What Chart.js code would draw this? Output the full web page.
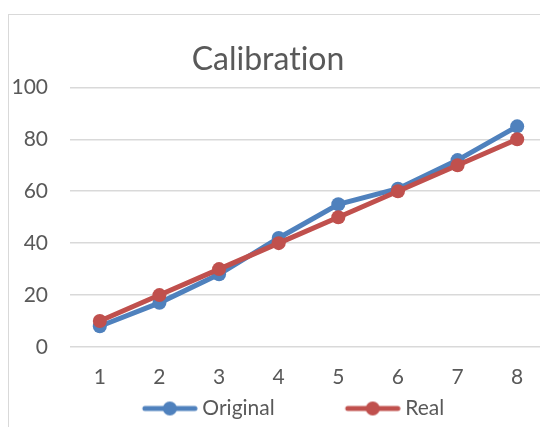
<!DOCTYPE html>
<html>
<head>
<meta charset="utf-8">
<title>Calibration</title>
<script src="https://cdn.jsdelivr.net/npm/chart.js@4/dist/chart.umd.min.js"></script>
<style>
    html, body { margin: 0; padding: 0; background: #ffffff; overflow: hidden; }
    #chartFrame {
        position: absolute;
        left: 8px;
        top: 14px;
        width: 570px;
        height: 470px;
        border: 1px solid #d9d9d9;
        background: #ffffff;
    }
    #calibrationChart { display: block; }
</style>
</head>
<body>
<div id="chartFrame">
    <canvas id="calibrationChart" width="560" height="414"></canvas>
</div>

<script>
// chart data
var categories = ['1', '2', '3', '4', '5', '6', '7', '8'];
var originalValues = [8, 17, 28, 42, 55, 61, 72, 85];
var realValues = [10, 20, 30, 40, 50, 60, 70, 80];
var seriesNames = ['Original', 'Real'];
var yTicks = [0, 20, 40, 60, 80, 100];

var blue = '#4F81BD';
var red = '#C0504D';
var textColor = '#595959';

// legend marker: line with a dot, like Excel
// (blank lead on the left gives the gap between the two entries)
function makeLegendIcon(color) {
    var lead = 68;
    var icon = document.createElement('canvas');
    icon.width = lead + 56;
    icon.height = 16;
    var c = icon.getContext('2d');
    c.strokeStyle = color;
    c.lineWidth = 5;
    c.lineCap = 'round';
    c.beginPath();
    c.moveTo(lead + 3, 8);
    c.lineTo(lead + 53, 8);
    c.stroke();
    c.fillStyle = color;
    c.beginPath();
    c.arc(lead + 28, 8, 7, 0, Math.PI * 2);
    c.fill();
    return icon;
}

var legendIcons = [makeLegendIcon(blue), makeLegendIcon(red)];

// Excel centres title and legend on the frame, not on the plot
var frameCentre = {
    id: 'frameCentre',
    beforeDraw: function (chart) {
        // no "ti" ligature in the title
        chart.ctx.textRendering = 'optimizeSpeed';
    },
    afterLayout: function (chart) {
        if (chart.titleBlock) {
            chart.titleBlock.left = 0;
            chart.titleBlock.right = 518;
        }
        if (chart.legend) {
            chart.legend.left -= 16;
            chart.legend.right -= 16;
        }
    }
};

document.addEventListener('DOMContentLoaded', function () {
    var ctx = document.getElementById('calibrationChart').getContext('2d');

    window.calibrationChart = new Chart(ctx, {
        type: 'line',
        data: {
            labels: categories,
            datasets: [{
                label: seriesNames[0],
                data: originalValues,
                borderColor: blue,
                backgroundColor: blue,
                borderWidth: 5,
                pointRadius: 7,
                pointHoverRadius: 7,
                pointBorderWidth: 0,
                tension: 0,
                order: 1
            }, {
                label: seriesNames[1],
                data: realValues,
                borderColor: red,
                backgroundColor: red,
                borderWidth: 5,
                pointRadius: 7,
                pointHoverRadius: 7,
                pointBorderWidth: 0,
                tension: 0,
                order: 0
            }]
        },
        options: {
            responsive: false,
            animation: false,
            devicePixelRatio: 1,
            layout: {
                padding: { left: 0, right: 22, top: 0, bottom: 0 }
            },
            scales: {
                x: {
                    offset: true,
                    grid: { display: false, drawTicks: false },
                    border: { display: false },
                    ticks: {
                        color: textColor,
                        padding: 18,
                        font: { family: 'Lato', size: 21 }
                    },
                    afterFit: function (scale) {
                        scale.height = 43;
                    }
                },
                y: {
                    min: 0,
                    max: 100,
                    afterBuildTicks: function (scale) {
                        scale.ticks = yTicks.map(function (v) { return { value: v }; });
                    },
                    grid: { color: '#d9d9d9', lineWidth: 1.5, drawTicks: false },
                    border: { display: false },
                    ticks: {
                        color: textColor,
                        padding: 22,
                        font: { family: 'Lato', size: 21 }
                    },
                    afterFit: function (scale) {
                        scale.width = 61;
                    }
                }
            },
            plugins: {
                title: {
                    display: true,
                    text: 'Calibration',
                    color: textColor,
                    font: { family: 'Lato', size: 32, weight: 'normal' },
                    padding: { top: 25, bottom: 9 }
                },
                legend: {
                    position: 'bottom',
                    labels: {
                        color: textColor,
                        font: { family: 'Lato', size: 21 },
                        usePointStyle: true,
                        pointStyleWidth: 112,
                        padding: 8,
                        sort: function (a, b) {
                            return a.datasetIndex - b.datasetIndex;
                        },
                        generateLabels: function (chart) {
                            var items = Chart.defaults.plugins.legend.labels.generateLabels(chart);
                            items.forEach(function (item) {
                                item.pointStyle = legendIcons[item.datasetIndex];
                            });
                            return items;
                        }
                    }
                },
                tooltip: { enabled: false }
            }
        },
        plugins: [frameCentre]
    });
});
</script>
</body>
</html>
